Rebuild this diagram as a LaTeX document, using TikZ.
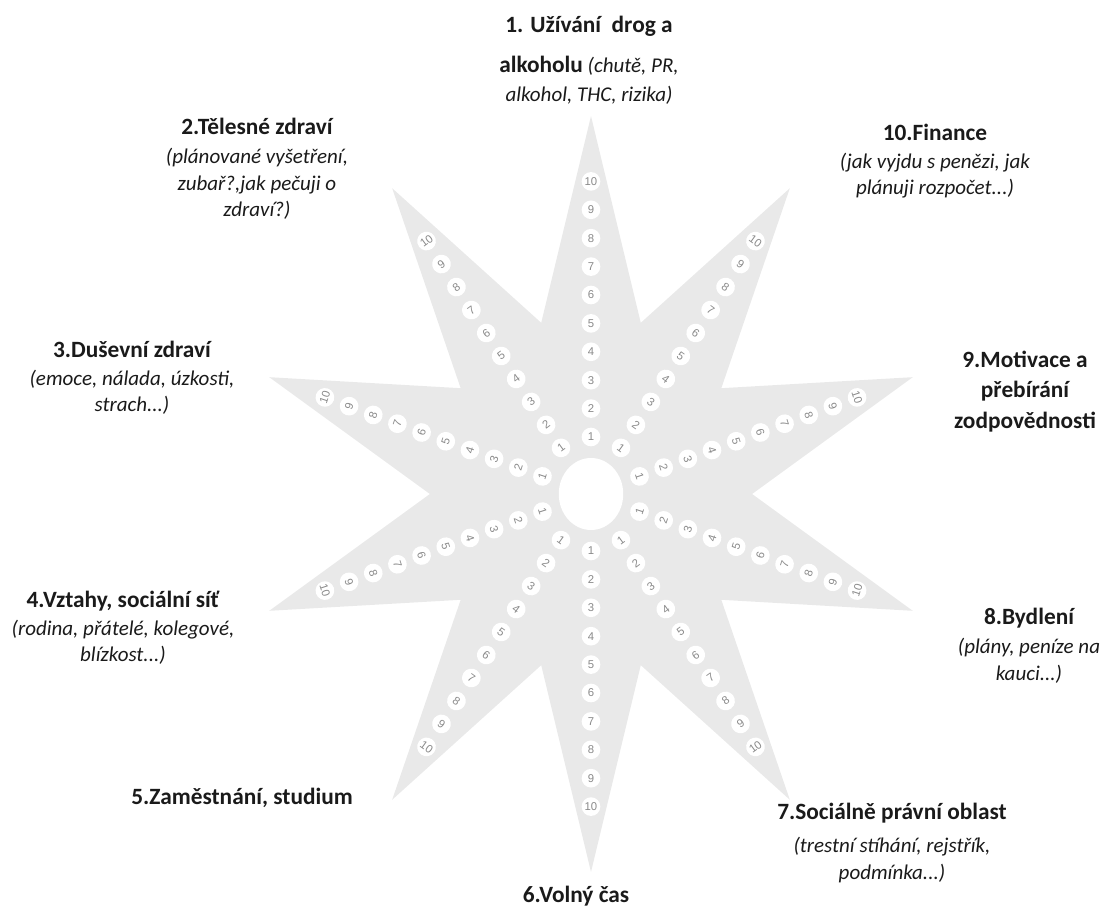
\documentclass[tikz,border=0pt]{standalone}
\usepackage{fontspec}
\setmainfont{Carlito}
\newfontfamily\numfont{Liberation Sans}
\definecolor{starfill}{HTML}{E9E9E9}
\definecolor{numgray}{HTML}{8A8A8A}
\definecolor{ink}{HTML}{1A1A1A}
\newcommand{\lbltitle}[1]{{\fontsize{17.5}{21}\selectfont\bfseries #1}}

\begin{document}
\begin{tikzpicture}[x=0.75pt, y=0.75pt,
    num/.style={circle, fill=white, minimum size=14pt, inner sep=0pt, text=numgray,
      font=\numfont\fontsize{8.5}{9}\selectfont},
    lbl/.style={align=center, anchor=north, text=ink, font=\fontsize{15.75}{20}\selectfont}]
    \useasboundingbox (-591,-419) rectangle (516,494);

    % --- star with ten rays, a bit narrower than high ---
    \begin{scope}[xscale=0.895]
      \fill[starfill] (90:378) \foreach \a in {0,...,9} { -- ({108+36*\a}:180) -- ({126+36*\a}:378) } -- cycle;
      \fill[white] (0,0) circle (36);
      \foreach \a in {0,...,9} {
        \pgfmathsetmacro{\ang}{90+36*\a}
        \pgfmathsetmacro{\rot}{sin(\ang)>0 ? \ang-90 : \ang+90}
        \foreach \k in {1,...,10}
          \node[num, rotate=\rot] (n\a-\k) at ({\ang}:{57+28.4*(\k-1)}) {\k};
      }
    \end{scope}

    % --- the ten areas ---
    \node[lbl] (l1) at (-2,483) {\lbltitle{1. Užívání\ \ drog a}\\[10pt]
      \lbltitle{alkoholu} \textit{(chutě, PR,}\\[2pt] \textit{alkohol, THC, rizika)}};
    \node[lbl] (l2) at (-334,381) {\lbltitle{2.Tělesné zdraví}\\[2pt]
      \textit{(plánované vyšetření,}\\ \textit{zubař?,jak pečuji o}\\ \textit{zdraví?)}};
    \node[lbl] (l3) at (-459,158) {\lbltitle{3.Duševní zdraví}\\[1pt]
      \textit{(emoce, nálada, úzkosti,}\\ \textit{strach...)}};
    \node[lbl] (l4) at (-468,-92) {\lbltitle{4.Vztahy, sociální síť}\\[1pt]
      \textit{(rodina, přátelé, kolegové,}\\ \textit{blízkost...)}};
    \node[lbl] (l5) at (-349,-289) {\lbltitle{5.Zaměstnání, studium}};
    \node[lbl] (l6) at (-15,-387) {\lbltitle{6.Volný čas}};
    \node[lbl] (l7) at (301,-304) {\lbltitle{7.Sociálně právní oblast}\\[5pt]
      \textit{(trestní stíhání, rejstřík,}\\ \textit{podmínka...)}};
    \node[lbl] (l8) at (438,-109) {\lbltitle{8.Bydlení}\\[2pt]
      \textit{(plány, peníze na}\\ \textit{kauci...)}};
    \node[lbl] (l9) at (434,148) {\lbltitle{9.Motivace a}\\[3pt]
      \lbltitle{přebírání}\\[3pt] \lbltitle{zodpovědnosti}};
    \node[lbl] (l10) at (344,375) {\lbltitle{10.Finance}\\[1pt]
      \textit{(jak vyjdu s penězi, jak}\\ \textit{plánuji rozpočet...)}};
  \end{tikzpicture}
\end{document}
